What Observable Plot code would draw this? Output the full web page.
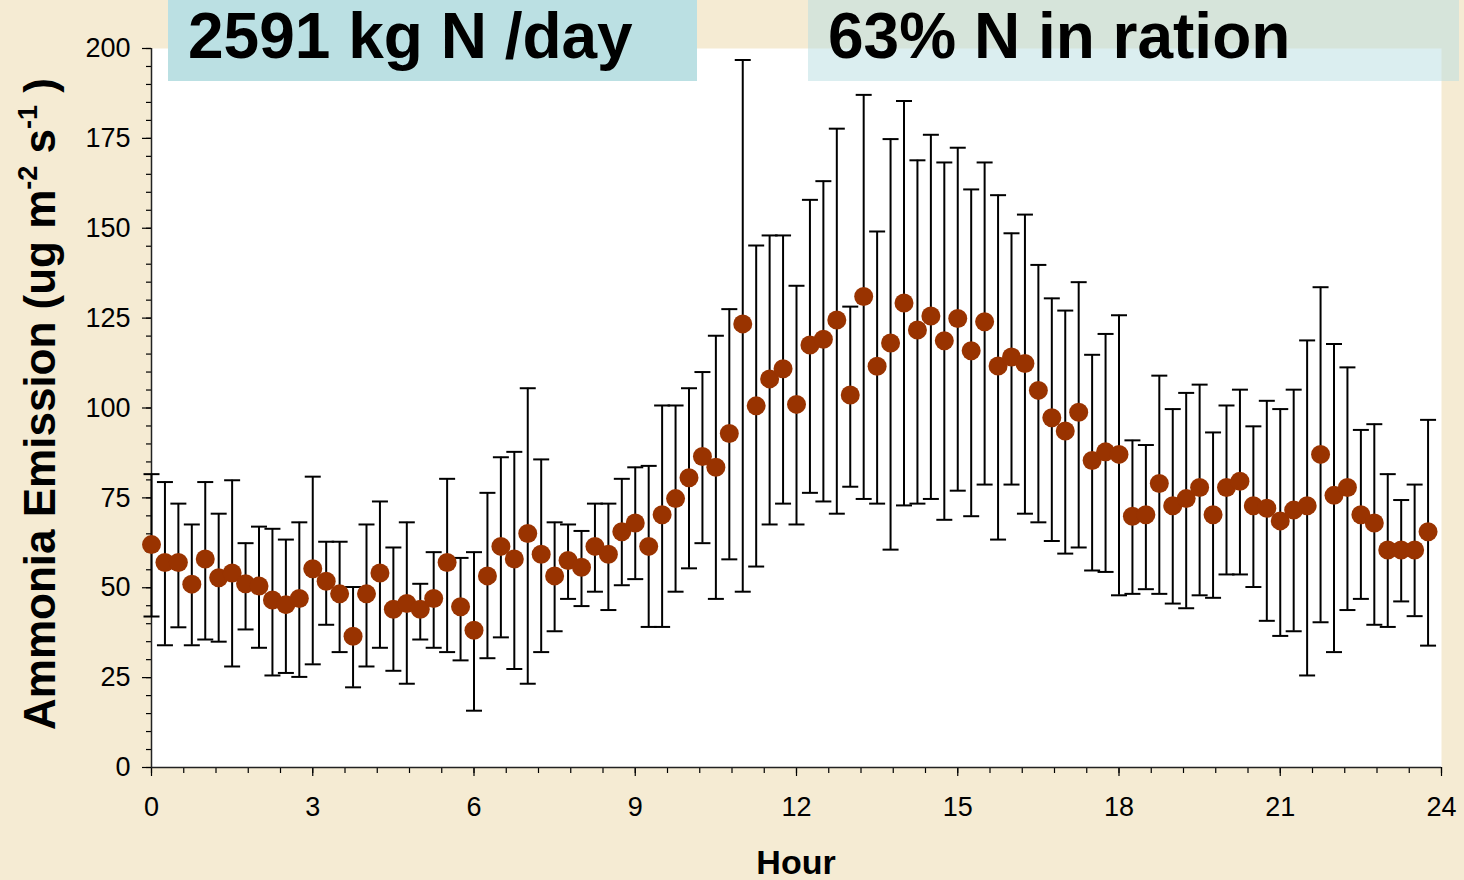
<!DOCTYPE html>
<html><head><meta charset="utf-8">
<script src="https://cdn.jsdelivr.net/npm/d3@7"></script>
<script src="https://cdn.jsdelivr.net/npm/@observablehq/plot@0.6"></script>
<style>
html,body{margin:0;padding:0;background:#F5EBD3;}
#chart{position:relative;width:1464px;height:880px;overflow:hidden;}
</style></head><body><div id="chart"></div>
<script>
const hours = [0,0.25,0.5,0.75,1,1.25,1.5,1.75,2,2.25,2.5,2.75,3,3.25,3.5,3.75,4,4.25,4.5,4.75,5,5.25,5.5,5.75,6,6.25,6.5,6.75,7,7.25,7.5,7.75,8,8.25,8.5,8.75,9,9.25,9.5,9.75,10,10.25,10.5,10.75,11,11.25,11.5,11.75,12,12.25,12.5,12.75,13,13.25,13.5,13.75,14,14.25,14.5,14.75,15,15.25,15.5,15.75,16,16.25,16.5,16.75,17,17.25,17.5,17.75,18,18.25,18.5,18.75,19,19.25,19.5,19.75,20,20.25,20.5,20.75,21,21.25,21.5,21.75,22,22.25,22.5,22.75,23,23.25,23.5,23.75];
const emission = [62,57,57,51,58,52.8,54.1,51.1,50.5,46.6,45.3,47,55.3,51.8,48.3,36.5,48.3,54.1,44,45.6,44,47,57,44.7,38.2,53.3,61.5,58,65.1,59.3,53.3,57.6,55.7,61.5,59.3,65.6,68,61.5,70.3,74.8,80.6,86.5,83.5,92.9,123.4,100.6,108.1,110.9,101,117.5,119.1,124.5,103.6,131,111.6,118.1,129.2,121.7,125.6,118.7,124.9,115.9,124,111.7,114.2,112.4,104.9,97.3,93.6,98.8,85.4,87.8,87.1,69.9,70.3,79,72.8,74.8,77.9,70.3,77.9,79.6,72.8,72.1,68.6,71.6,72.8,87.1,75.7,77.9,70.3,68,60.5,60.5,60.5,65.6];
const upper = [81.6,79.4,73.4,67.6,79.4,70.6,79.9,62.4,67,66.4,63.4,68.2,80.9,62.8,62.8,50.2,67.6,74,61.2,68.2,51.1,59.9,80.3,58.3,59.9,76.4,86.3,87.8,105.5,85.7,68.2,67.6,65.8,73.4,73.4,80.3,83.5,83.9,100.7,100.7,105.5,110,120.1,127.5,196.8,145.2,148,148,134,157.9,163.1,177.7,128.2,187.1,149.1,174.8,185.4,168.9,176,168.3,172.4,160.8,168.3,159.2,148.6,153.8,139.8,130.5,127.1,135,114.8,120.6,125.8,91,89.7,109,99.7,104.2,106.5,93.2,100.7,105.1,94.9,102,99.7,105.1,118.8,133.6,117.8,111.3,93.9,95.5,81.6,74.4,78.7,96.7];
const lower = [42,34,39,34,35.6,35,28.1,38.4,33.3,25.6,26.3,25.2,28.7,39.7,32.1,22.3,28.1,33.3,26.9,23.3,35.6,33.3,32.1,29.8,15.8,30.4,36.2,27.4,23.3,32.1,37.9,46.9,44.9,48.9,43.8,50.7,52.4,39.1,39.1,48.9,55.4,62.4,46.9,57.9,48.9,55.9,67.6,73.4,67.6,76.4,74,70.6,78.1,74.7,73.4,60.6,72.9,73.4,74.7,68.9,77,69.9,78.7,63.4,78.7,70.6,68.2,63,59.5,61.2,54.8,54.4,47.9,48.3,49.6,48.3,45.6,44.3,47.9,47.2,53.7,53.7,50.2,40.8,36.6,37.9,25.6,40.4,32.1,43.8,46.9,39.7,39.1,46.2,42.1,33.9];
const xMajorTicks = [0,3,6,9,12,15,18,21,24];
const xMinorTicks = [0,0.6,1.2,1.8,2.4,3,3.6,4.2,4.8,5.4,6,6.6,7.2,7.8,8.4,9,9.6,10.2,10.8,11.4,12,12.6,13.2,13.8,14.4,15,15.6,16.2,16.8,17.4,18,18.6,19.2,19.8,20.4,21,21.6,22.2,22.8,23.4,24];
const yMajorTicks = [0,25,50,75,100,125,150,175,200];
const yMinorTicks = [0,5,10,15,20,25,30,35,40,45,50,55,60,65,70,75,80,85,90,95,100,105,110,115,120,125,130,135,140,145,150,155,160,165,170,175,180,185,190,195,200];
const titleLeft = "2591 kg N /day";
const titleRight = "63% N in ration";
const xTitle = "Hour";
const yTitleMain = "Ammonia Emission (ug m";
const yTitleSup1 = "-2";
const yTitleMid = " s";
const yTitleSup2 = "-1";
const yTitleEnd = " )";

const FONT = "'Liberation Sans', Arial, Helvetica, sans-serif";
const data = hours.map((h, i) => ({h, v: emission[i], hi: upper[i], lo: lower[i]}));
const capSymbol = {draw(ctx, size) { const w = Math.sqrt(size / Math.PI); ctx.moveTo(-w, 0); ctx.lineTo(w, 0); }};

const chart = Plot.plot({
  width: 1464, height: 880,
  marginLeft: 151, marginRight: 23, marginTop: 48, marginBottom: 113,
  style: {background: "transparent", color: "black", fontFamily: FONT, fontSize: "27px"},
  x: {domain: [0, 24], label: null},
  y: {domain: [0, 200], label: null},
  marks: [
    Plot.frame({fill: "white", stroke: "none"}),
    Plot.axisX(xMinorTicks, {tickSize: 6, tickFormat: () => "", label: null, strokeWidth: 1.2}),
    Plot.axisX(xMajorTicks, {tickSize: 9, tickPadding: 20, tickFormat: d => String(d), label: null, strokeWidth: 1.2}),
    Plot.axisY(yMinorTicks, {tickSize: 5, tickFormat: () => "", label: null, strokeWidth: 1.2}),
    Plot.axisY(yMajorTicks, {tickSize: 9, tickPadding: 12, tickFormat: d => String(d), label: null, strokeWidth: 1.2}),
    Plot.ruleY([0], {stroke: "#222", strokeWidth: 1.5}),
    Plot.ruleX([0], {stroke: "#222", strokeWidth: 1.5}),
    Plot.ruleX(data, {x: "h", y1: "lo", y2: "hi", stroke: "black", strokeWidth: 2}),
    Plot.dot(data, {x: "h", y: "hi", symbol: capSymbol, r: 8, stroke: "black", strokeWidth: 2, fill: "none"}),
    Plot.dot(data, {x: "h", y: "lo", symbol: capSymbol, r: 8, stroke: "black", strokeWidth: 2, fill: "none"}),
    Plot.dot(data, {x: "h", y: "v", r: 9.5, fill: "#993300", stroke: "none"})
  ]
});
document.getElementById("chart").appendChild(chart);

const svg = d3.select(chart);
// title boxes
svg.append("rect").attr("x", 168).attr("y", 0).attr("width", 529).attr("height", 81).attr("fill", "#BBE0E3");
svg.append("text").attr("x", 188).attr("y", 58).attr("text-anchor", "start").attr("font-family", FONT).attr("font-weight", "bold")
  .attr("font-size", 64).attr("fill", "black").text(titleLeft);
svg.append("rect").attr("x", 808).attr("y", 0).attr("width", 651).attr("height", 81).attr("fill", "rgb(184,222,226)").attr("fill-opacity", 0.5);
svg.append("text").attr("x", 828).attr("y", 58).attr("text-anchor", "start").attr("font-family", FONT).attr("font-weight", "bold")
  .attr("font-size", 64).attr("fill", "black").text(titleRight);
// axis titles
svg.append("text").attr("x", 796).attr("y", 874).attr("text-anchor", "middle").attr("font-family", FONT)
  .attr("font-weight", "bold").attr("font-size", 34).attr("fill", "black").text(xTitle);
const yt = svg.append("text").attr("transform", "translate(55,404) rotate(-90)").attr("text-anchor", "middle")
  .attr("font-family", FONT).attr("font-weight", "bold").attr("font-size", 44).attr("fill", "black");
yt.append("tspan").text(yTitleMain);
yt.append("tspan").attr("font-size", 27).attr("dy", -18).text(yTitleSup1);
yt.append("tspan").attr("dy", 18).text(yTitleMid);
yt.append("tspan").attr("font-size", 27).attr("dy", -18).text(yTitleSup2);
yt.append("tspan").attr("dy", 18).text(yTitleEnd);
</script></body></html>
